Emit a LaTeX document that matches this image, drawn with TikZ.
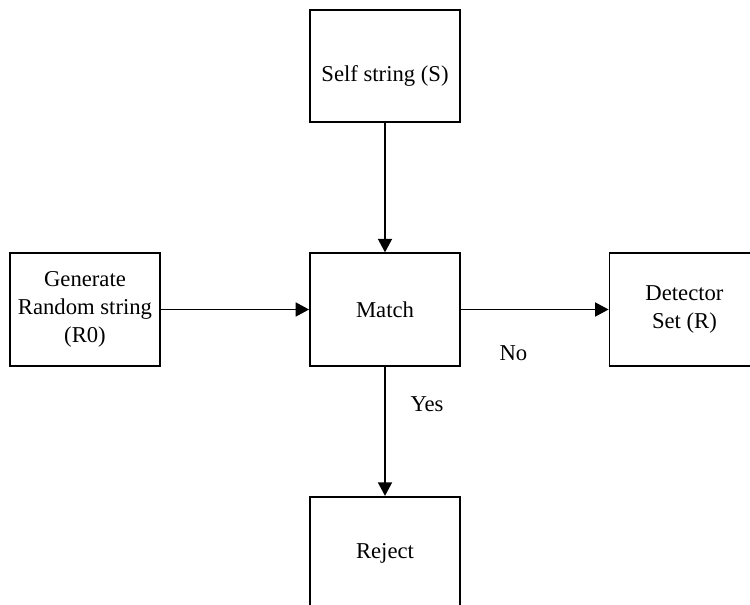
\documentclass[tikz,border=0pt]{standalone}
\usepackage{fontspec}
\setmainfont{Liberation Serif}
\usetikzlibrary{arrows.meta}

\begin{document}
\begin{tikzpicture}[
			>={Triangle[length=2.7mm, width=2.8mm]},
			blockbox/.style={rectangle, draw, line width=1pt, minimum width=3cm, minimum height=2.25cm, inner sep=0pt, align=center},
			every node/.style={font=\fontsize{12.9}{16}\selectfont},
			flow/.style={line width=1pt}
		]
			\clip (0,0) rectangle (15,-12.1);
			% 方框
			\node[blockbox] (self) at (7.7,-1.32) {};
			\node (selftext) at ([yshift=-0.2cm]self.center) {Self string (S)};
			\node[blockbox] (gen) at (1.7,-6.19) {Generate\\Random string\\(R0)};
			\node[blockbox] (match) at (7.7,-6.19) {Match};
			\node[blockbox] (det) at (13.69,-6.19) {Detector\\Set (R)};
			\node[blockbox] (rej) at (7.7,-11.06) {Reject};

			% 箭头
			\path[->, flow]
				(self) edge (match)
				(gen) edge (match)
				(match) edge node[pos=0.356, yshift=-0.88cm] {No} (det)
				(match) edge node[pos=0.29, xshift=0.84cm] {Yes} (rej);
		\end{tikzpicture}
\end{document}
